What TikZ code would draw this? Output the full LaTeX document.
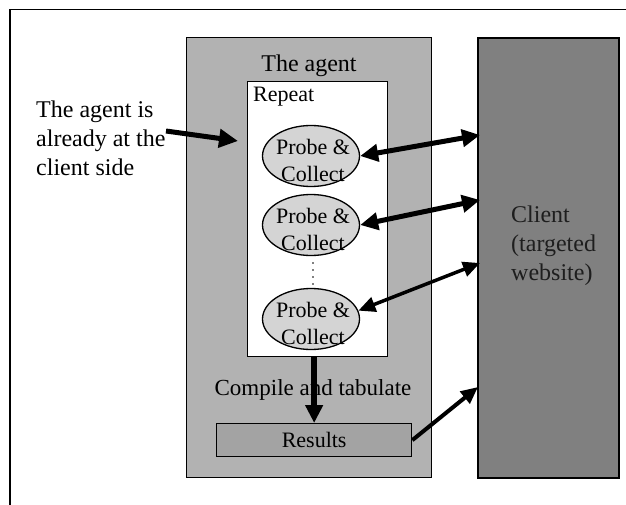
\documentclass[tikz,border=0pt]{standalone}
\usepackage{fontspec}
\setmainfont{Liberation Serif}
\usetikzlibrary{arrows.meta,shapes.geometric}
\definecolor{agentgray}{HTML}{B2B2B2}
\definecolor{clientgray}{HTML}{808080}
\definecolor{resgray}{HTML}{A3A3A3}
\definecolor{ellgray}{HTML}{D4D4D4}
\definecolor{clienttext}{HTML}{1E1E1E}
\tikzset{
  big/.style={font=\fontsize{24}{29}\selectfont},
  small/.style={font=\fontsize{22}{27}\selectfont},
  box/.style={draw=black, line width=1.3pt, inner sep=0pt},
  probe/.style={ellipse, draw=black, line width=1.3pt, fill=ellgray, minimum width=97pt, minimum height=61pt, inner sep=0pt},
  fat/.style={line width=5pt, -{Triangle[length=19pt,width=18pt]}},
  fatboth/.style={line width=5pt, {Triangle[length=18pt,width=17pt]}-{Triangle[length=18pt,width=17pt]}},
  thinboth/.style={line width=3.5pt, {Triangle[length=17pt,width=15pt]}-{Triangle[length=17pt,width=15pt]}},
}
\begin{document}
\begin{tikzpicture}[x=1pt,y=-1pt]
\useasboundingbox (0,0) rectangle (626,505);
% outer frame (top and left only)
\draw[line width=1.5pt] (626,9.5) -- (10,9.5) -- (10,505);
% agent box
\node[box, fill=agentgray, line width=1pt, minimum width=245pt, minimum height=440pt, anchor=north west] (agent) at (186,37) {};
% client box
\node[box, fill=clientgray, line width=1.6pt, minimum width=141pt, minimum height=440pt, anchor=north west] (client) at (477,37) {};
% repeat box
\node[box, fill=white, minimum width=140pt, minimum height=275pt, anchor=north west] (rep) at (247,81) {};
% results box
\node[box, fill=resgray, minimum width=195pt, minimum height=33pt, anchor=north west] (res) at (216,423) {};
\node[small, inner sep=0pt] (restext) at (res.center) {Results};
% texts
\node[big, inner sep=0pt] (agenttitle) at (309,66) {The agent};
\node[small, inner sep=0pt, anchor=west] (reptitle) at (253,97) {Repeat};
\node[big, inner sep=0pt, anchor=west, align=left] (note) at (36,138) {The agent is\\already at the\\client side};
\node[big, inner sep=0pt, anchor=west, align=left, text=clienttext] (clienttxt) at (511,246) {Client\\(targeted\\website)};
% probes
\node[probe] (e1) at (311,156) {};
\node[probe] (e2) at (311,225) {};
\node[probe] (e3) at (311,319) {};
\node[small, inner sep=0pt, align=center] (t1) at (313,160) {Probe \&\\Collect};
\node[small, inner sep=0pt, align=center] (t2) at (313,229) {Probe \&\\Collect};
\node[small, inner sep=0pt, align=center] (t3) at (313,323) {Probe \&\\Collect};
% vertical ellipsis
\draw[line width=1.6pt, line cap=round, dash pattern=on 0pt off 7pt] (313,263) -- (313,284);
\node[font=\fontsize{23}{27}\selectfont, inner sep=0pt] (compile) at (313,390) {Compile and tabulate};
% connector end points
\coordinate (ns) at (166,131);
\coordinate (nt) at (238,141);
\coordinate (c1) at (480,135);
\coordinate (c2) at (480,200);
\coordinate (c3) at (480,263);
\coordinate (c4) at (478,387);
% arrows
\draw[fat] (ns) -- (nt);
\draw[fatboth] (e1.east) -- (c1);
\draw[fatboth] (e2.east) -- (c2);
\draw[thinboth] (e3.10) -- (c3);
\draw[line width=4pt, -{Triangle[length=17pt,width=15pt]}] (res.east) -- (c4);
\draw[line width=6.5pt, -{Triangle[length=18pt,width=17pt]}] (rep.south -| res.north) -- (res.north);
\end{tikzpicture}
\end{document}
